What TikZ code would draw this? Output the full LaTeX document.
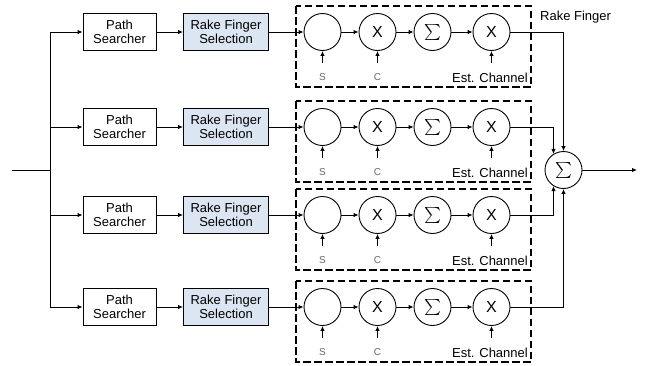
\documentclass[tikz,border=0pt]{standalone}
\usepackage{fontspec}
\setmainfont{Liberation Sans}
\usetikzlibrary{arrows.meta,calc}
\definecolor{selblue}{HTML}{DCE6F2}
\newcommand{\bigsig}{\scalebox{1.6}{$\sum$}}
\tikzset{
  conn/.style={line width=0.9pt,-{Latex[length=5pt,width=4.5pt]}},
  plain/.style={line width=0.9pt},
  blk/.style={draw,line width=0.9pt,minimum width=73pt,minimum height=37pt,align=center,inner sep=1pt,font=\fontsize{13}{14.5}\selectfont},
  selblk/.style={blk,fill=selblue,minimum width=85pt},
  op/.style={draw,circle,line width=0.9pt,minimum size=37pt,inner sep=0pt,font=\fontsize{16}{16}\selectfont},
  finger/.style={draw,dashed,line width=1.1pt,dash pattern=on 7.5pt off 3.5pt},
  small/.style={font=\fontsize{10}{10}\selectfont,text=black!60},
  lab/.style={font=\fontsize{13}{13}\selectfont,inner sep=0pt},
}
\begin{document}
\begin{tikzpicture}[x=1pt,y=-1pt]
\useasboundingbox (0,0) rectangle (651,365);
\node[op] (sum) at (563.5,170) {\bigsig};
\coordinate (in) at (12,170);
\coordinate (j) at (50,170);
\coordinate (out) at (637,170);
\draw[plain] (in) -- (j);
\draw[conn] (sum) -- (out);
\foreach \i/\y/\side in {1/32/north,2/127/122,3/215/238,4/307/south}{
  \coordinate (L\i) at (50,\y);
  \node[blk] (ps\i) at (119.5,\y) {Path\\Searcher};
  \node[selblk] (rf\i) at (226,\y) {Rake Finger\\Selection};
  \draw[finger] (296,\y-26) rectangle (531,\y+55);
  \node[op] (a\i) at (322.5,\y) {};
  \node[op] (b\i) at (377.5,\y) {X};
  \node[op] (c\i) at (432.5,\y) {\bigsig};
  \node[op] (d\i) at (491.5,\y) {X};
  \coordinate (sa\i) at (322.5,\y+31);
  \coordinate (sb\i) at (377.5,\y+31);
  \coordinate (sd\i) at (491.5,\y+31);
  \node[small] (S\i) at (322.5,\y+45) {S};
  \node[small] (C\i) at (377.5,\y+45) {C};
  \node[lab,anchor=east] (E\i) at (528,\y+46) {Est. Channel};
  \draw[conn] (L\i) -- (ps\i);
  \draw[conn] (ps\i) -- (rf\i);
  \draw[conn] (rf\i) -- (a\i);
  \draw[conn] (a\i) -- (b\i);
  \draw[conn] (b\i) -- (c\i);
  \draw[conn] (c\i) -- (d\i);
  \draw[conn] (sa\i) -- (a\i);
  \draw[conn] (sb\i) -- (b\i);
  \draw[conn] (sd\i) -- (d\i);
  \draw[conn] (d\i) -| (sum.\side);
}
\draw[plain] (L1) -- (L4);
\node[lab,anchor=west] (rl) at (540,17) {Rake Finger};
\end{tikzpicture}
\end{document}
